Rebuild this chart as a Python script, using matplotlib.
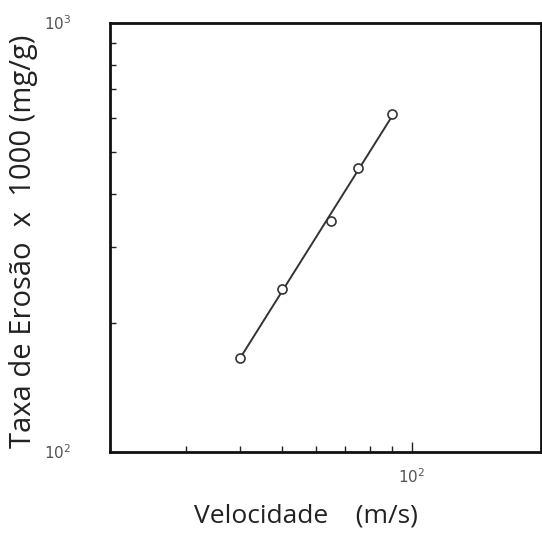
import numpy as np
import matplotlib.pyplot as plt
from matplotlib.ticker import LogLocator, NullFormatter, FixedLocator, FixedFormatter

# dados
velocidade = [40, 50, 65, 75, 90]          # m/s
taxa_erosao = [166, 240, 345, 459, 614]    # x 1000 (mg/g)

x_ticks = [100]
x_tick_labels = ['$10^2$']
y_ticks = [100, 1000]
y_tick_labels = ['$10^2$', '$10^3$']

plt.rcParams['font.family'] = ['Open Sans', 'DejaVu Sans']

fig = plt.figure(figsize=(5.42, 5.34), dpi=100)
ax = fig.add_axes([110/542, 82/534, 431/542, 429/534])

# reta ajustada em log-log (lei de potencia)
b, a = np.polyfit(np.log10(velocidade), np.log10(taxa_erosao), 1)
x_fit = np.array([velocidade[0], velocidade[-1]])
y_fit = 10**(a + b*np.log10(x_fit))
ax.plot(x_fit, y_fit, color='#333333', linewidth=1.4)
ax.plot(velocidade, taxa_erosao, linestyle='none',
        marker='o', markersize=6.5, markerfacecolor='white',
        markeredgecolor='#333333', markeredgewidth=1.2)

ax.set_xscale('log')
ax.set_yscale('log')
ax.set_xlim(20, 199)
ax.set_ylim(100, 1000)

ax.xaxis.set_major_locator(FixedLocator(x_ticks))
ax.xaxis.set_major_formatter(FixedFormatter(x_tick_labels))
ax.yaxis.set_major_locator(FixedLocator(y_ticks))
ax.yaxis.set_major_formatter(FixedFormatter(y_tick_labels))
ax.xaxis.set_minor_locator(LogLocator(base=10, subs=np.arange(2, 10)))
ax.yaxis.set_minor_locator(LogLocator(base=10, subs=np.arange(2, 10)))
ax.xaxis.set_minor_formatter(NullFormatter())
ax.yaxis.set_minor_formatter(NullFormatter())

ax.tick_params(which='both', direction='in', color='#222222', width=1,
               top=False, right=False)
ax.tick_params(which='major', length=7)
ax.tick_params(which='minor', length=4)
ax.tick_params(axis='y', which='major', pad=28, labelsize=11, labelcolor='#555555')
ax.tick_params(axis='x', which='major', pad=12, labelsize=11, labelcolor='#555555')

for s in ax.spines.values():
    s.set_linewidth(2)
    s.set_color('#111111')

ax.set_xlabel('Velocidade    (m/s)', fontsize=19, color='#222222')
ax.xaxis.set_label_coords(0.455, -0.12)
ax.set_ylabel('Taxa de Erosão  x  1000 (mg/g)', fontsize=21, color='#222222')
ax.yaxis.set_label_coords(-0.167, 0.49)

fig.savefig('out.png', dpi=100)
